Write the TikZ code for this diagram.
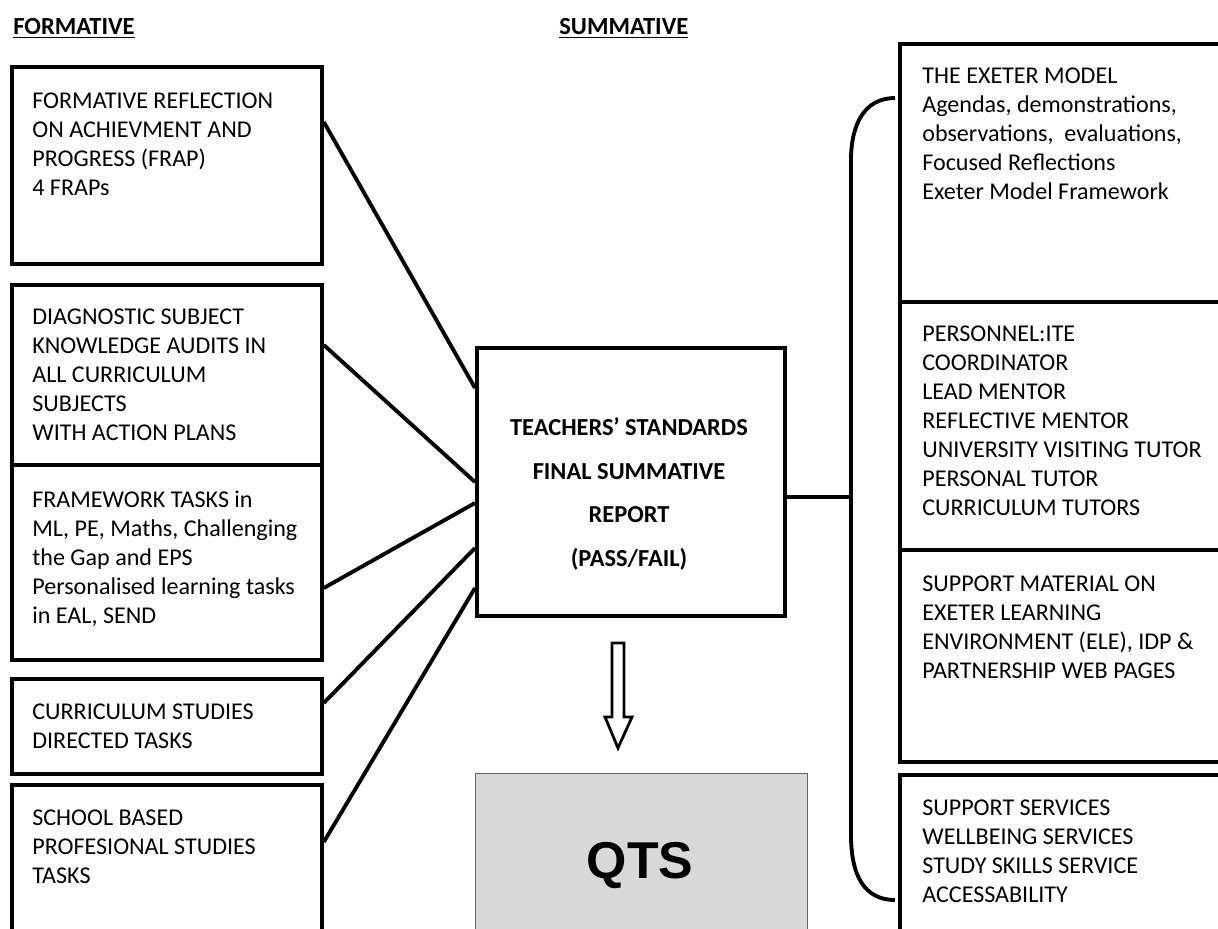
\documentclass[tikz,border=0pt]{standalone}
\usepackage{fontspec}
\setmainfont{Carlito}
\newfontfamily\qtsfont{Liberation Sans}
\usetikzlibrary{positioning}

\tikzset{
  box/.style={draw, line width=2.2pt, anchor=north west, inner sep=0pt},
  boxtext/.style={anchor=north west, inner sep=0pt, align=left,
    font=\fontsize{13.7}{16.5}\selectfont},
  conn/.style={line width=2.2pt},
  head/.style={anchor=base west, inner sep=0pt,
    font=\fontsize{14}{16}\selectfont\bfseries}
}

\begin{document}
\begin{tikzpicture}[x=0.02cm, y=-0.02cm]
  \useasboundingbox (0,0) rectangle (1218,929);
  \clip (0,0) rectangle (1218,929);

  % headings
  \node[head] (hform) at (13,35) {\underline{FORMATIVE}};
  \node[head] (hsum) at (559,35) {\underline{SUMMATIVE}};

  % formative boxes
  \node[box, minimum width=6.2cm, minimum height=3.94cm] (l1) at (10,65) {};
  \node[box, minimum width=6.2cm, minimum height=3.6cm] (l2) at (10,283) {};
  \node[box, minimum width=6.2cm, minimum height=3.9cm] (l3) at (10,463) {};
  \node[box, minimum width=6.2cm, minimum height=1.9cm] (l4) at (10,677) {};
  \node[box, minimum width=6.2cm, minimum height=3.3cm] (l5) at (10,783) {};

  \node[boxtext] (t1) at (32,93) {FORMATIVE REFLECTION\\ON ACHIEVMENT AND\\PROGRESS (FRAP)\\4 FRAPs};
  \node[boxtext] (t2) at (32,309) {DIAGNOSTIC SUBJECT\\KNOWLEDGE AUDITS IN\\ALL CURRICULUM\\SUBJECTS\\WITH ACTION PLANS};
  \node[boxtext] (t3) at (32,491) {FRAMEWORK TASKS in\\ML, PE, Maths, Challenging\\the Gap and EPS\\Personalised learning tasks\\in EAL, SEND};
  \node[boxtext] (t4) at (32,704) {CURRICULUM STUDIES\\DIRECTED TASKS};
  \node[boxtext] (t5) at (32,810) {SCHOOL BASED\\PROFESIONAL STUDIES\\TASKS};

  % final report
  \node[box, minimum width=6.16cm, minimum height=5.36cm] (sum) at (475,346) {};
  \node[anchor=north, inner sep=0pt, align=center,
    font=\fontsize{13.9}{25}\selectfont\bfseries] (sumtext) at (629,417)
    {TEACHERS’ STANDARDS\\FINAL SUMMATIVE\\REPORT\\(PASS/FAIL)};

  \foreach \n/\a/\b in {l1/122/388, l2/345/482, l3/588/503, l4/703/548, l5/842/588}
    \draw[conn] (\n.east |- 0,\a) -- (sum.west |- 0,\b);

  % QTS
  \node[draw=black!60, line width=0.6pt, fill=black!15, anchor=north west,
    minimum width=6.64cm, minimum height=3.5cm] (qts) at (475,773) {};
  \node[font=\qtsfont\fontsize{29.5}{32}\selectfont\bfseries, anchor=base,
    inner sep=0pt] (qtstext) at (640,878) {QTS};

  \draw[line width=1.6pt, fill=white]
    (612,643) -- (624,643) -- (624,717) -- (632,717) -- (618,748)
    -- (605,717) -- (612,717) -- cycle;

  % support boxes
  \node[box, minimum width=6.8cm, minimum height=5.16cm] (r1) at (898,42) {};
  \node[box, minimum width=6.8cm, minimum height=4.96cm] (r2) at (898,300) {};
  \node[box, minimum width=6.8cm, minimum height=4.24cm] (r3) at (898,548) {};
  \node[box, minimum width=6.8cm, minimum height=3.6cm] (r4) at (898,773) {};

  \node[boxtext] (s1) at (922,68) {THE EXETER MODEL\\Agendas, demonstrations,\\observations,\ \ evaluations,\\Focused Reflections\\Exeter Model Framework};
  \node[boxtext] (s2) at (922,326) {PERSONNEL:ITE\\COORDINATOR\\LEAD MENTOR\\REFLECTIVE MENTOR\\UNIVERSITY VISITING TUTOR\\PERSONAL TUTOR\\CURRICULUM TUTORS};
  \node[boxtext] (s3) at (922,576) {SUPPORT MATERIAL ON\\EXETER LEARNING\\ENVIRONMENT (ELE), IDP \&\\PARTNERSHIP WEB PAGES};
  \node[boxtext] (s4) at (922,800) {SUPPORT SERVICES\\WELLBEING SERVICES\\STUDY SKILLS SERVICE\\ACCESSABILITY};

  % brace
  \coordinate (brc) at (851,497);
  \draw[conn] (895,98) .. controls (864,98) and (851,125) .. (851,160)
    -- (851,835) .. controls (851,875) and (864,900) .. (895,900);
  \draw[conn] (sum.east |- brc) -- (brc);
\end{tikzpicture}
\end{document}
